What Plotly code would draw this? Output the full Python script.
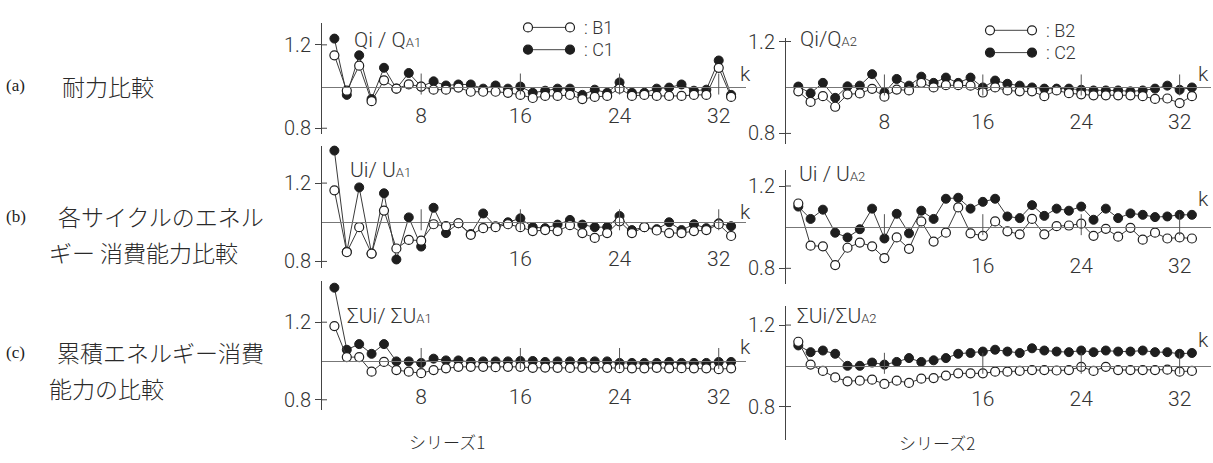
import plotly.graph_objects as go

W, H = 1213, 463

# ---------------- data ----------------
cycles = list(range(1, 34))
x_ticks = [8, 16, 24, 32]
y_ticks = [0.8, 1.2]
y_tick_text = ["0.8", "1.2"]

# (a) strength ratio Qi/QA
q_B1 = [1.15, 0.98, 1.10, 0.93, 1.03, 0.99, 1.01, 1.00, 0.985, 0.985, 0.995, 0.975, 0.975, 0.975, 0.97,
        0.96, 0.945, 0.955, 0.955, 0.96, 0.94, 0.95, 0.955, 0.99, 0.955, 0.96, 0.955, 0.955, 0.955, 0.96,
        0.96, 1.09, 0.95]
q_C1 = [1.23, 0.96, 1.15, 0.94, 1.09, 0.99, 1.065, 1.00, 1.025, 1.005, 1.01, 1.01, 0.99, 1.005, 0.99,
        1.00, 0.97, 0.98, 0.99, 0.99, 0.96, 0.985, 0.97, 1.02, 0.97, 0.97, 0.99, 0.995, 1.01, 0.98,
        0.985, 1.125, 0.96]
q_B2 = [0.983, 0.937, 0.962, 0.916, 0.97, 0.974, 0.994, 0.96, 0.991, 0.987, 1.02, 1.0, 1.01, 1.01, 1.008,
        0.978, 1.0, 0.987, 0.983, 0.983, 0.962, 0.987, 0.975, 0.97, 0.966, 0.966, 0.966, 0.966, 0.962,
        0.95, 0.952, 0.932, 0.962]
q_C2 = [1.004, 0.975, 1.02, 0.955, 1.005, 1.008, 1.058, 0.978, 1.037, 1.008, 1.047, 1.02, 1.043, 1.02,
        1.043, 1.0, 1.03, 1.016, 1.008, 1.0, 0.995, 0.995, 0.995, 0.99, 0.987, 0.987, 0.987, 0.983, 0.987,
        0.995, 1.008, 0.99, 1.0]

# (b) energy dissipation per cycle Ui/UA
u_B1 = [1.163, 0.847, 0.975, 0.84, 1.06, 0.866, 0.91, 0.906, 0.99, 0.98, 0.995, 0.936, 0.97, 0.975, 0.99,
        0.975, 0.955, 0.96, 0.955, 0.985, 0.945, 0.92, 0.945, 1.005, 0.945, 0.975, 0.958, 0.945, 0.945,
        0.955, 0.96, 0.99, 0.93]
u_C1 = [1.366, 0.85, 1.178, 0.84, 1.148, 0.81, 1.025, 0.876, 1.074, 0.945, 0.995, 0.94, 1.045, 0.98, 1.0,
        1.02, 0.975, 0.97, 0.988, 1.012, 0.988, 0.975, 0.975, 1.032, 0.96, 0.975, 0.965, 1.0, 0.96, 0.99,
        0.97, 0.995, 0.98]
u_B2 = [1.115, 0.91, 0.907, 0.816, 0.90, 0.925, 0.907, 0.85, 0.95, 0.895, 1.028, 0.93, 0.973, 1.096, 0.97,
        0.958, 1.028, 0.98, 0.965, 1.04, 0.965, 1.005, 1.008, 1.017, 0.958, 0.992, 0.954, 0.997, 0.939,
        0.973, 0.945, 0.95, 0.945]
u_C2 = [1.10, 1.04, 1.085, 0.973, 0.95, 0.99, 1.09, 0.945, 1.065, 0.97, 1.08, 1.04, 1.138, 1.143, 1.09,
        1.123, 1.138, 1.052, 1.044, 1.107, 1.055, 1.09, 1.08, 1.10, 1.036, 1.09, 1.044, 1.067, 1.06, 1.049,
        1.052, 1.06, 1.06]

# (c) cumulative energy dissipation sum(Ui)/sum(UA)
s_B1 = [1.18, 1.02, 1.02, 0.945, 0.995, 0.953, 0.945, 0.937, 0.953, 0.962, 0.97, 0.97, 0.97, 0.968, 0.97,
        0.97, 0.965, 0.966, 0.965, 0.964, 0.965, 0.966, 0.965, 0.963, 0.962, 0.962, 0.965, 0.962, 0.963,
        0.962, 0.962, 0.958, 0.962]
s_C1 = [1.378, 1.058, 1.087, 1.037, 1.087, 0.998, 0.998, 0.99, 1.012, 1.003, 1.003, 0.995, 0.998, 0.998,
        0.998, 1.0, 1.0, 0.995, 0.998, 0.998, 0.995, 0.998, 0.998, 0.99, 0.99, 0.99, 0.99, 0.995, 0.99,
        0.99, 0.99, 0.995, 0.995]
s_B2 = [1.118, 1.006, 0.975, 0.943, 0.924, 0.927, 0.932, 0.911, 0.927, 0.916, 0.937, 0.94, 0.952, 0.963,
        0.963, 0.963, 0.971, 0.971, 0.975, 0.979, 0.979, 0.977, 0.979, 0.995, 0.975, 0.995, 0.979, 0.979,
        0.979, 0.979, 0.981, 0.971, 0.975]
s_C2 = [1.10, 1.067, 1.075, 1.059, 1.0, 1.0, 1.016, 1.006, 1.019, 1.038, 1.019, 1.027, 1.038, 1.059, 1.063,
        1.07, 1.079, 1.07, 1.063, 1.086, 1.075, 1.07, 1.067, 1.075, 1.067, 1.075, 1.07, 1.07, 1.075, 1.067,
        1.067, 1.059, 1.063]

# ---------------- layout helpers ----------------
def px(p):
    return p / W


def py(p):
    return 1 - p / H


LATIN = "Roboto, Liberation Sans, DejaVu Sans, sans-serif"
CJK = "Noto Sans CJK JP"
TXT = "#333333"

panels = [
    dict(B=q_B1, C=q_C1, xdom=(322, 746), xmax=34.2, ydom=(15, 130), yr=(0.772, 1.307),
         tl=["8", "16", "24", "32"], so=10,
         label='Qi / Q<span style="font-size:13px">A1</span>', lab=(352, 33), k=(745, 68)),
    dict(B=u_B1, C=u_C1, xdom=(322, 746), xmax=34.2, ydom=(142, 268), yr=(0.767, 1.391),
         tl=["", "16", "24", "32"], so=18,
         label='Ui/ U<span style="font-size:13px">A1</span>', lab=(348, 167), k=(745, 210)),
    dict(B=s_B1, C=s_C1, xdom=(322, 746), xmax=34.2, ydom=(282, 415), yr=(0.745, 1.41),
         tl=["8", "16", "24", "32"], so=17,
         label='ΣUi/ ΣU<span style="font-size:13px">A1</span>', lab=(345, 318), k=(745, 350)),
    dict(B=q_B2, C=q_C2, xdom=(786, 1211), xmax=34.55, ydom=(31, 140), yr=(0.755, 1.215),
         tl=["8", "16", "24", "32"], so=15,
         label='Qi/Q<span style="font-size:13px">A2</span>', lab=(798, 32), k=(1203, 68)),
    dict(B=u_B2, C=u_C2, xdom=(786, 1211), xmax=34.55, ydom=(167, 285), yr=(0.722, 1.278),
         tl=["", "16", "24", "32"], so=20,
         label='Ui / U<span style="font-size:13px">A2</span>', lab=(797, 171), k=(1203, 197)),
    dict(B=s_B2, C=s_C2, xdom=(786, 1211), xmax=34.55, ydom=(307, 445), yr=(0.638, 1.295),
         tl=["", "16", "24", "32"], so=14,
         label='ΣUi/ΣU<span style="font-size:13px">A2</span>', lab=(795, 318), k=(1203, 342)),
]

fig = go.Figure()
layout = {}
shapes = []
annotations = []

for i, p in enumerate(panels, start=1):
    xa = "x" if i == 1 else f"x{i}"
    ya = "y" if i == 1 else f"y{i}"
    fig.add_trace(go.Scatter(
        x=cycles, y=p["C"], mode="lines+markers", xaxis=xa, yaxis=ya, showlegend=False,
        line=dict(color="#3a3a3a", width=1),
        marker=dict(size=9, color="#1e1e1e", line=dict(color="#1e1e1e", width=1)),
        cliponaxis=False, hoverinfo="skip"))
    fig.add_trace(go.Scatter(
        x=cycles, y=p["B"], mode="lines+markers", xaxis=xa, yaxis=ya, showlegend=False,
        line=dict(color="#3a3a3a", width=1),
        marker=dict(size=9, color="white", line=dict(color="#1e1e1e", width=1.2)),
        cliponaxis=False, hoverinfo="skip"))

    y0, y1 = p["yr"]
    d0, d1 = py(p["ydom"][1]), py(p["ydom"][0])
    base_pos = d0 + (1 - y0) / (y1 - y0) * (d1 - d0)
    layout[f"xaxis{i}"] = dict(
        domain=[px(p["xdom"][0]), px(p["xdom"][1])], range=[0, p["xmax"]],
        anchor="free", position=base_pos, showline=True, linecolor="#777", linewidth=1,
        ticks="", tickmode="array", tickvals=x_ticks, ticktext=p["tl"],
        ticklabelstandoff=p["so"], showgrid=False, zeroline=False, fixedrange=True,
        tickfont=dict(family=LATIN, size=21, color=TXT, weight=300))
    layout[f"yaxis{i}"] = dict(
        domain=[d0, d1], range=[y0, y1], anchor=xa, showline=True, linecolor="#444",
        linewidth=1, ticks="outside", ticklen=6, tickcolor="#444", tickmode="array",
        tickvals=y_ticks, ticktext=y_tick_text, showgrid=False, zeroline=False, fixedrange=True,
        tickfont=dict(family=LATIN, size=20, color=TXT, weight=300))

    # tick marks crossing the reference line (k axis)
    for t in x_ticks:
        shapes.append(dict(type="line", xref=xa, yref=ya, x0=t, x1=t, yanchor=1.0,
                           ysizemode="pixel", y0=-8, y1=13,
                           line=dict(color="#555", width=1)))
    # inner half of the y ticks (ticks cross the y axis)
    for t in y_ticks:
        shapes.append(dict(type="line", xref=xa, yref=ya, xanchor=0, xsizemode="pixel",
                           x0=0, x1=5, y0=t, y1=t, line=dict(color="#444", width=1)))

    annotations.append(dict(text=p["label"], x=px(p["lab"][0]), y=py(p["lab"][1]),
                            xref="paper", yref="paper", xanchor="left", yanchor="middle",
                            showarrow=False, font=dict(family=LATIN, size=21, color=TXT, weight=300)))
    annotations.append(dict(text="k", x=px(p["k"][0]), y=py(p["k"][1]),
                            xref="paper", yref="paper", xanchor="center", yanchor="middle",
                            showarrow=False, font=dict(family=LATIN, size=21, color=TXT, weight=300)))

# ---------------- hand-drawn legends ----------------
legend_rows = [
    (528, 570, 20, "white", ": B1"),
    (528, 570, 43, "#1e1e1e", ": C1"),
    (990, 1032, 23, "white", ": B2"),
    (990, 1032, 46, "#1e1e1e", ": C2"),
]
for xa0, xa1, yy, fillc, txt in legend_rows:
    shapes.append(dict(type="line", xref="paper", yref="paper", x0=px(xa0), x1=px(xa1),
                       y0=py(yy), y1=py(yy), line=dict(color="#444", width=1)))
    for xc in (xa0, xa1):
        shapes.append(dict(type="circle", xref="paper", yref="paper", xsizemode="pixel",
                           ysizemode="pixel", xanchor=px(xc), yanchor=py(yy),
                           x0=-4.5, x1=4.5, y0=-4.5, y1=4.5, fillcolor=fillc,
                           line=dict(color="#1e1e1e", width=1.2)))
    annotations.append(dict(text=txt, x=px(xa1 + 12), y=py(yy), xref="paper", yref="paper",
                            xanchor="left", yanchor="middle", showarrow=False,
                            font=dict(family=LATIN, size=18, color=TXT, weight=300)))

# ---------------- row and column captions ----------------
for txt, xx, yy in [("(a)", 4, 80), ("(b)", 4, 215), ("(c)", 4, 355)]:
    annotations.append(dict(text=txt, x=px(xx), y=py(yy), xref="paper", yref="paper",
                            xanchor="left", yanchor="middle", showarrow=False,
                            font=dict(family="Liberation Serif, DejaVu Serif", size=17, color="#222")))

cjk_caps = [
    ("耐力比較", 60, 80),
    ("各サイクルのエネル", 56, 215),
    ("ギー 消費能力比較", 47, 252),
    ("累積エネルギー消費", 55, 355),
    ("能力の比較", 47, 392),
]
for txt, xx, yy in cjk_caps:
    annotations.append(dict(text=txt, x=px(xx), y=py(yy), xref="paper", yref="paper",
                            xanchor="left", yanchor="middle", showarrow=False,
                            font=dict(family=CJK, size=23, color="#2a2a2a", weight=300)))

for txt, xx, yy in [("シリーズ1", 447, 447), ("シリーズ2", 937, 448)]:
    annotations.append(dict(text=txt, x=px(xx), y=py(yy), xref="paper", yref="paper",
                            xanchor="center", yanchor="middle", showarrow=False,
                            font=dict(family=CJK, size=17, color="#2a2a2a", weight=300)))

fig.update_layout(
    width=W, height=H, margin=dict(l=0, r=0, t=0, b=0),
    paper_bgcolor="white", plot_bgcolor="rgba(0,0,0,0)", hovermode=False,
    showlegend=False, shapes=shapes, annotations=annotations, **layout)

fig.write_html("out.html", config={"displayModeBar": False, "staticPlot": True},
               post_script="document.body.style.margin='0';document.body.style.overflow='hidden';")
